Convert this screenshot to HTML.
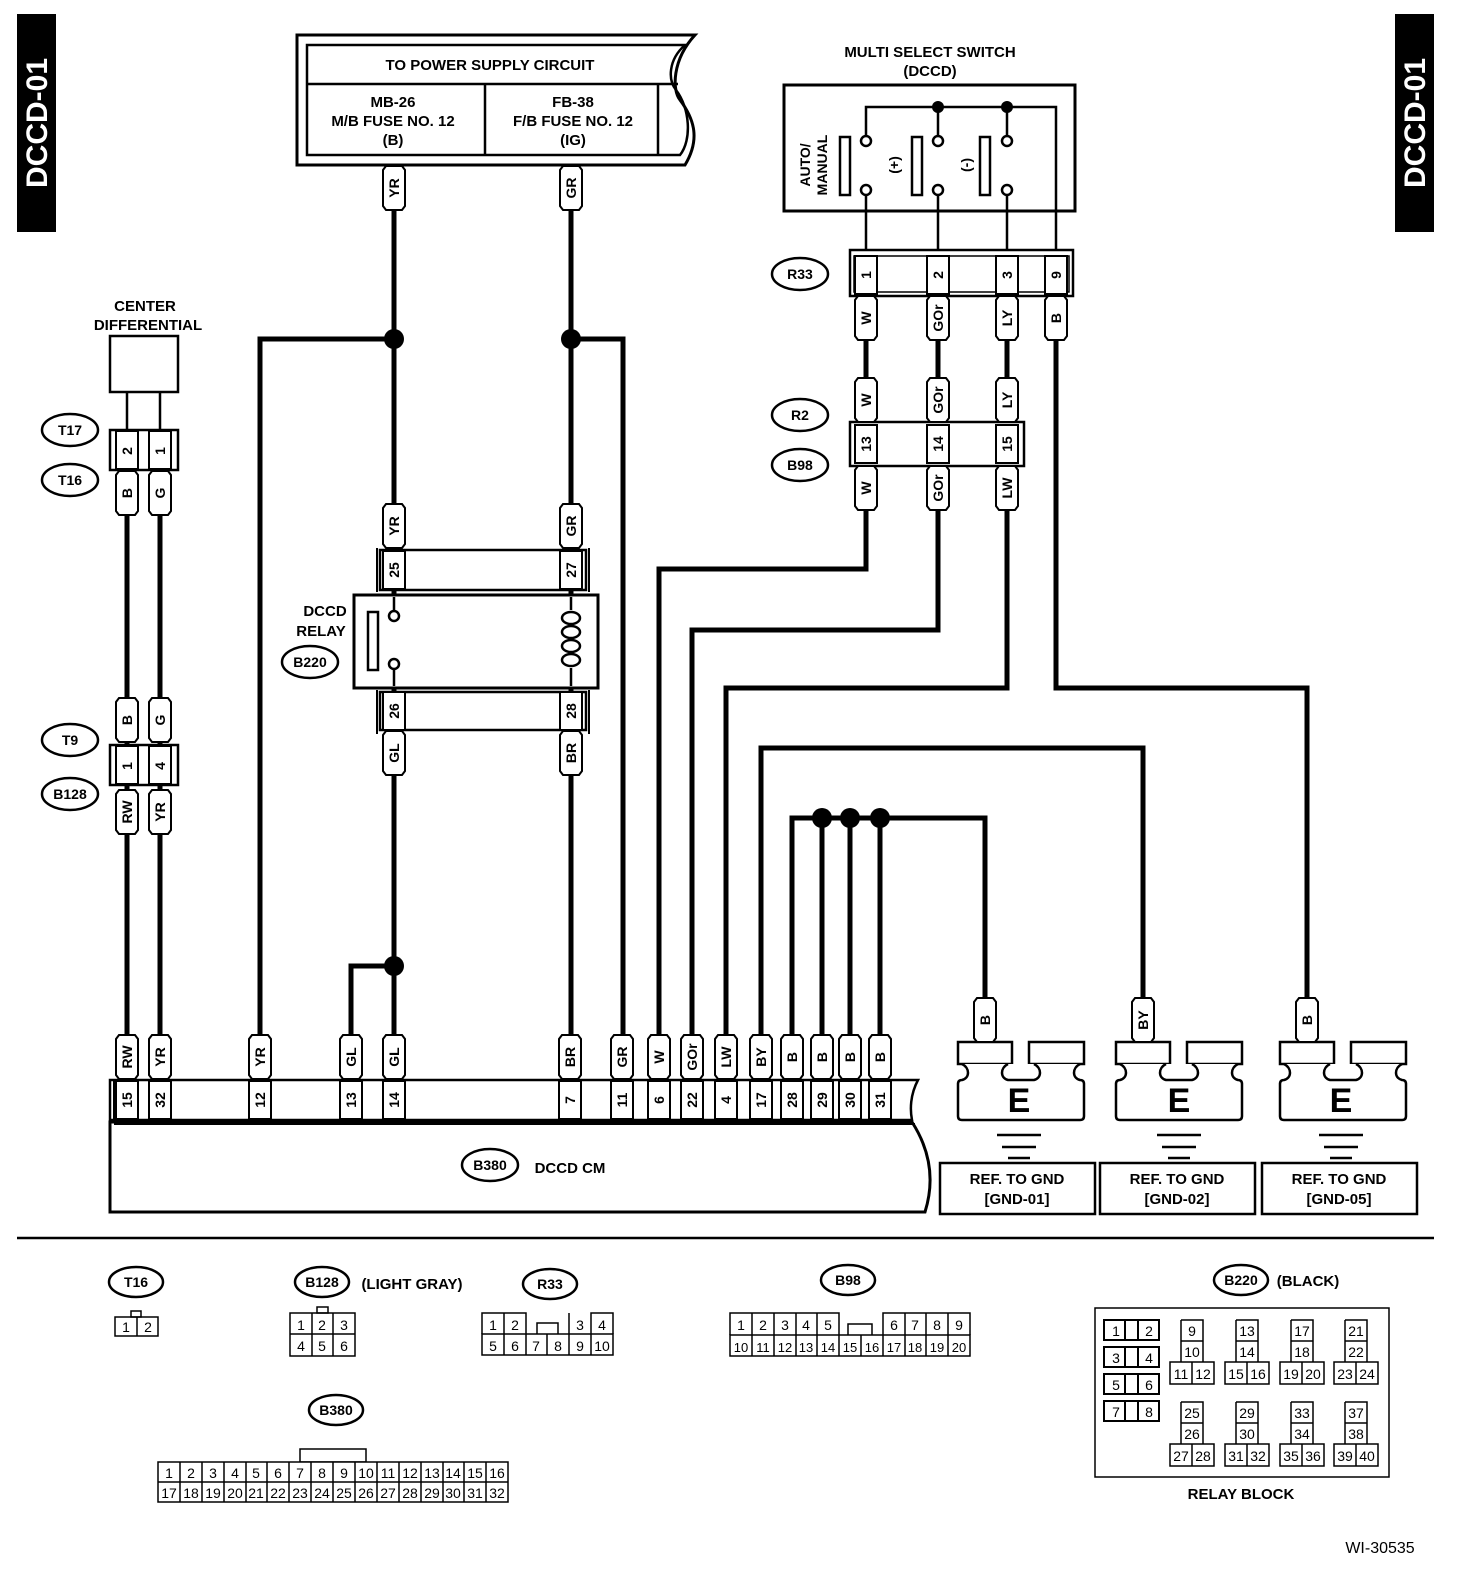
<!DOCTYPE html>
<html><head><meta charset="utf-8"><style>
html,body{margin:0;padding:0;background:#fff}
svg{display:block}
text{font-family:"Liberation Sans",sans-serif;font-weight:bold;fill:#000}
.tt{font-size:14px;text-anchor:middle;dominant-baseline:central}
.l{font-size:15px;text-anchor:middle}
.s{font-size:14px;text-anchor:middle;font-weight:normal}
</style></head><body>
<svg width="1472" height="1580" viewBox="0 0 1472 1580" xmlns="http://www.w3.org/2000/svg">
<defs>
<g id="t"><path d="M-8,-22H8L11,-18V18L8,22H-8L-11,18V-18Z" fill="#fff" stroke="#000" stroke-width="2"/></g>
<g id="c"><rect x="-11" y="0" width="22" height="38" fill="#fff" stroke="#000" stroke-width="2"/></g>
<g id="gnd" fill="#fff" stroke="#000" stroke-width="2.5">
<rect x="0" y="1042" width="54" height="22"/>
<rect x="71" y="1042" width="55" height="22"/>
<path d="M4,1064C12,1068 12,1078 4,1080Q0,1080 0,1084V1116Q0,1120 4,1120H122Q126,1120 126,1116V1084Q126,1080 122,1080C114,1078 114,1068 122,1064M50,1064C42,1068 42,1078 50,1080H76C84,1078 84,1068 76,1064"/>
</g>
</defs>

<!-- side labels -->
<rect x="17" y="14" width="39" height="218" fill="#000"/>
<text transform="translate(47,123) rotate(-90)" style="font-size:30px;fill:#fff;text-anchor:middle">DCCD-01</text>
<rect x="1395" y="14" width="39" height="218" fill="#000"/>
<text transform="translate(1425,123) rotate(-90)" style="font-size:30px;fill:#fff;text-anchor:middle">DCCD-01</text>

<!-- power supply box -->
<path d="M297,35H695C672,60 672,90 680,100C695,120 700,140 685,165H297Z" fill="#fff" stroke="#000" stroke-width="3"/>
<path d="M307,45H685C668,60 668,80 676,90C690,108 692,140 680,155H307Z" fill="none" stroke="#000" stroke-width="2.5"/>
<path d="M307,84H678M485,84V155M658,84V155" stroke="#000" stroke-width="2.5"/>
<text x="490" y="70" class="l">TO POWER SUPPLY CIRCUIT</text>
<text x="393" y="107" class="l">MB-26</text>
<text x="393" y="126" class="l">M/B FUSE NO. 12</text>
<text x="393" y="145" class="l">(B)</text>
<text x="573" y="107" class="l">FB-38</text>
<text x="573" y="126" class="l">F/B FUSE NO. 12</text>
<text x="573" y="145" class="l">(IG)</text>

<!-- Multi select switch -->
<text x="930" y="57" class="l">MULTI SELECT SWITCH</text>
<text x="930" y="76" class="l">(DCCD)</text>
<rect x="784" y="85" width="291" height="126" fill="none" stroke="#000" stroke-width="3"/>
<g stroke="#000" stroke-width="2.5" fill="none">
<path d="M866,136V107H1056V252M938,107V136M1007,107V136"/>
<path d="M866,195V252M938,195V252M1007,195V252"/>
<rect x="840" y="137" width="10" height="58"/><rect x="912" y="137" width="10" height="58"/><rect x="980" y="137" width="10" height="58"/>
<circle cx="866" cy="141" r="5" fill="#fff"/><circle cx="866" cy="190" r="5" fill="#fff"/>
<circle cx="938" cy="141" r="5" fill="#fff"/><circle cx="938" cy="190" r="5" fill="#fff"/>
<circle cx="1007" cy="141" r="5" fill="#fff"/><circle cx="1007" cy="190" r="5" fill="#fff"/>
</g>
<circle cx="938" cy="107" r="6"/><circle cx="1007" cy="107" r="6"/>
<text transform="translate(810,165) rotate(-90)" class="l" style="font-size:14px">AUTO/</text>
<text transform="translate(827,165) rotate(-90)" class="l" style="font-size:14px">MANUAL</text>
<text transform="translate(894,165) rotate(-90)" class="tt">(+)</text>
<text transform="translate(966,165) rotate(-90)" class="tt">(-)</text>

<!-- Center differential -->
<text x="145" y="311" class="l">CENTER</text>
<text x="148" y="330" class="l">DIFFERENTIAL</text>
<rect x="110" y="336" width="68" height="56" fill="#fff" stroke="#000" stroke-width="2.5"/>
<path d="M127,392V430M160,392V430" stroke="#000" stroke-width="2.5"/>

<!-- thick wires -->
<g stroke="#000" stroke-width="5" fill="none">
<path d="M394,166V1040M571,166V1040"/>
<path d="M260,1040V339H394M571,339H623V1040M351,1040V966H394"/>
<path d="M127,470V1040M160,470V1040"/>
<path d="M866,296V569H659V1040M938,296V630H692V1040M1007,296V688H726V1040"/>
<path d="M1056,296V688H1307V1000M761,1040V748H1143V1000M792,1040V818H985V1000M822,818V1040M850,818V1040M880,818V1040"/>
</g>
<g>
<circle cx="394" cy="339" r="10"/><circle cx="571" cy="339" r="10"/><circle cx="394" cy="966" r="10"/>
<circle cx="822" cy="818" r="10"/><circle cx="850" cy="818" r="10"/><circle cx="880" cy="818" r="10"/>
</g>

<!-- small connectors left -->
<rect x="110" y="430" width="68" height="40" fill="#fff" stroke="#000" stroke-width="2.5"/>
<use href="#c" x="127" y="431"/><use href="#c" x="160" y="431"/>
<text transform="translate(127,451) rotate(-90)" class="tt">2</text>
<text transform="translate(160,451) rotate(-90)" class="tt">1</text>
<rect x="110" y="745" width="68" height="40" fill="#fff" stroke="#000" stroke-width="2.5"/>
<use href="#c" x="127" y="746"/><use href="#c" x="160" y="746"/>
<text transform="translate(127,766) rotate(-90)" class="tt">1</text>
<text transform="translate(160,766) rotate(-90)" class="tt">4</text>

<!-- B380 body -->
<path d="M110,1122H912C930,1150 935,1180 925,1212H110Z" fill="#fff" stroke="#000" stroke-width="3"/>
<path d="M110,1080H918C910,1095 910,1110 912,1120H110Z" fill="#fff" stroke="#000" stroke-width="2.5"/>
<path d="M114,1080V1120M114,1124H915" stroke="#000" stroke-width="2"/>

<!-- ellipse labels -->
<g fill="#fff" stroke="#000" stroke-width="2.5">
<ellipse cx="70" cy="430" rx="28" ry="16"/><ellipse cx="70" cy="480" rx="28" ry="16"/>
<ellipse cx="70" cy="740" rx="28" ry="16"/><ellipse cx="70" cy="794" rx="28" ry="16"/>
<ellipse cx="310" cy="662" rx="28" ry="16"/>
<ellipse cx="800" cy="274" rx="28" ry="16"/><ellipse cx="800" cy="415" rx="28" ry="16"/><ellipse cx="800" cy="465" rx="28" ry="16"/>
<ellipse cx="490" cy="1165" rx="28" ry="16"/>
</g>
<text x="70" y="430" class="tt">T17</text><text x="70" y="480" class="tt">T16</text>
<text x="70" y="740" class="tt">T9</text><text x="70" y="794" class="tt">B128</text>
<text x="310" y="662" class="tt">B220</text>
<text x="800" y="274" class="tt">R33</text><text x="800" y="415" class="tt">R2</text><text x="800" y="465" class="tt">B98</text>
<text x="490" y="1165" class="tt">B380</text>
<text x="570" y="1173" class="l">DCCD CM</text>

<!-- relay -->
<text x="325" y="616" class="l">DCCD</text>
<text x="321" y="636" class="l">RELAY</text>
<rect x="380" y="550" width="206" height="40" fill="#fff" stroke="#000" stroke-width="2.5"/>
<path d="M377,548V592M589,548V592" stroke="#000" stroke-width="2"/>
<use href="#c" x="394" y="551"/><use href="#c" x="571" y="551"/>
<text transform="translate(394,570) rotate(-90)" class="tt">25</text>
<text transform="translate(571,570) rotate(-90)" class="tt">27</text>
<rect x="354" y="595" width="244" height="93" fill="#fff" stroke="#000" stroke-width="3"/>
<rect x="368" y="612" width="10" height="58" fill="none" stroke="#000" stroke-width="2.5"/>
<g stroke="#000" stroke-width="2.5" fill="none">
<path d="M394,597V611M394,669V686M571,597V610M571,668V686"/>
<circle cx="394" cy="616" r="5" fill="#fff"/><circle cx="394" cy="664" r="5" fill="#fff"/>
<ellipse cx="571" cy="618" rx="9" ry="6"/><ellipse cx="571" cy="632" rx="9" ry="6"/><ellipse cx="571" cy="646" rx="9" ry="6"/><ellipse cx="571" cy="660" rx="9" ry="6"/>
</g>
<rect x="380" y="692" width="206" height="38" fill="#fff" stroke="#000" stroke-width="2.5"/>
<path d="M377,690V734M589,690V734" stroke="#000" stroke-width="2"/>
<use href="#c" x="394" y="692"/><use href="#c" x="571" y="692"/>
<text transform="translate(394,711) rotate(-90)" class="tt">26</text>
<text transform="translate(571,711) rotate(-90)" class="tt">28</text>

<!-- R33 connector -->
<rect x="850" y="250" width="223" height="46" fill="#fff" stroke="#000" stroke-width="2.5"/>
<rect x="854" y="256" width="215" height="36" fill="none" stroke="#000" stroke-width="1.5"/>
<use href="#c" x="866" y="256"/><use href="#c" x="938" y="256"/><use href="#c" x="1007" y="256"/><use href="#c" x="1056" y="256"/>
<text transform="translate(866,275) rotate(-90)" class="tt">1</text>
<text transform="translate(938,275) rotate(-90)" class="tt">2</text>
<text transform="translate(1007,275) rotate(-90)" class="tt">3</text>
<text transform="translate(1056,275) rotate(-90)" class="tt">9</text>

<!-- R2/B98 connector -->
<rect x="850" y="422" width="174" height="44" fill="#fff" stroke="#000" stroke-width="2.5"/>
<use href="#c" x="866" y="425"/><use href="#c" x="938" y="425"/><use href="#c" x="1007" y="425"/>
<text transform="translate(866,444) rotate(-90)" class="tt">13</text>
<text transform="translate(938,444) rotate(-90)" class="tt">14</text>
<text transform="translate(1007,444) rotate(-90)" class="tt">15</text>

<!-- B380 pin cells -->
<g>
<use href="#c" x="127" y="1081"/><use href="#c" x="160" y="1081"/><use href="#c" x="260" y="1081"/><use href="#c" x="351" y="1081"/><use href="#c" x="394" y="1081"/><use href="#c" x="570" y="1081"/><use href="#c" x="622" y="1081"/><use href="#c" x="659" y="1081"/><use href="#c" x="692" y="1081"/><use href="#c" x="726" y="1081"/><use href="#c" x="761" y="1081"/><use href="#c" x="792" y="1081"/><use href="#c" x="822" y="1081"/><use href="#c" x="850" y="1081"/><use href="#c" x="880" y="1081"/>
</g>
<text transform="translate(127,1100) rotate(-90)" class="tt">15</text>
<text transform="translate(160,1100) rotate(-90)" class="tt">32</text>
<text transform="translate(260,1100) rotate(-90)" class="tt">12</text>
<text transform="translate(351,1100) rotate(-90)" class="tt">13</text>
<text transform="translate(394,1100) rotate(-90)" class="tt">14</text>
<text transform="translate(570,1100) rotate(-90)" class="tt">7</text>
<text transform="translate(622,1100) rotate(-90)" class="tt">11</text>
<text transform="translate(659,1100) rotate(-90)" class="tt">6</text>
<text transform="translate(692,1100) rotate(-90)" class="tt">22</text>
<text transform="translate(726,1100) rotate(-90)" class="tt">4</text>
<text transform="translate(761,1100) rotate(-90)" class="tt">17</text>
<text transform="translate(792,1100) rotate(-90)" class="tt">28</text>
<text transform="translate(822,1100) rotate(-90)" class="tt">29</text>
<text transform="translate(850,1100) rotate(-90)" class="tt">30</text>
<text transform="translate(880,1100) rotate(-90)" class="tt">31</text>

<!-- grounds -->
<use href="#gnd" x="958" y="0"/><use href="#gnd" x="1116" y="0"/><use href="#gnd" x="1280" y="0"/>
<g style="font-size:34px;text-anchor:middle">
<text x="1019" y="1112">E</text><text x="1179" y="1112">E</text><text x="1341" y="1112">E</text>
</g>
<g stroke="#000" stroke-width="2.5">
<path d="M997,1135H1041M1002,1147H1036M1008,1158H1030"/>
<path d="M1157,1135H1201M1162,1147H1196M1168,1158H1190"/>
<path d="M1319,1135H1363M1324,1147H1358M1330,1158H1352"/>
</g>
<g fill="none" stroke="#000" stroke-width="2.5">
<rect x="940" y="1163" width="155" height="51"/><rect x="1100" y="1163" width="155" height="51"/><rect x="1262" y="1163" width="155" height="51"/>
</g>
<text x="1017" y="1184" class="l">REF. TO GND</text><text x="1017" y="1204" class="l">[GND-01]</text>
<text x="1177" y="1184" class="l">REF. TO GND</text><text x="1177" y="1204" class="l">[GND-02]</text>
<text x="1339" y="1184" class="l">REF. TO GND</text><text x="1339" y="1204" class="l">[GND-05]</text>

<!-- tags -->
<g>
<use href="#t" x="394" y="188"/><use href="#t" x="571" y="188"/>
<use href="#t" x="394" y="526"/><use href="#t" x="571" y="526"/>
<use href="#t" x="394" y="753"/><use href="#t" x="571" y="753"/>
<use href="#t" x="127" y="493"/><use href="#t" x="160" y="493"/>
<use href="#t" x="127" y="720"/><use href="#t" x="160" y="720"/>
<use href="#t" x="127" y="812"/><use href="#t" x="160" y="812"/>
<use href="#t" x="866" y="318"/><use href="#t" x="938" y="318"/><use href="#t" x="1007" y="318"/><use href="#t" x="1056" y="318"/>
<use href="#t" x="866" y="400"/><use href="#t" x="938" y="400"/><use href="#t" x="1007" y="400"/>
<use href="#t" x="866" y="488"/><use href="#t" x="938" y="488"/><use href="#t" x="1007" y="488"/>
<use href="#t" x="985" y="1020"/><use href="#t" x="1143" y="1020"/><use href="#t" x="1307" y="1020"/>
<use href="#t" x="127" y="1057"/><use href="#t" x="160" y="1057"/><use href="#t" x="260" y="1057"/><use href="#t" x="351" y="1057"/><use href="#t" x="394" y="1057"/><use href="#t" x="570" y="1057"/><use href="#t" x="622" y="1057"/><use href="#t" x="659" y="1057"/><use href="#t" x="692" y="1057"/><use href="#t" x="726" y="1057"/><use href="#t" x="761" y="1057"/><use href="#t" x="792" y="1057"/><use href="#t" x="822" y="1057"/><use href="#t" x="850" y="1057"/><use href="#t" x="880" y="1057"/>
</g>
<text transform="translate(394,188) rotate(-90)" class="tt">YR</text>
<text transform="translate(571,188) rotate(-90)" class="tt">GR</text>
<text transform="translate(394,526) rotate(-90)" class="tt">YR</text>
<text transform="translate(571,526) rotate(-90)" class="tt">GR</text>
<text transform="translate(394,753) rotate(-90)" class="tt">GL</text>
<text transform="translate(571,753) rotate(-90)" class="tt">BR</text>
<text transform="translate(127,493) rotate(-90)" class="tt">B</text>
<text transform="translate(160,493) rotate(-90)" class="tt">G</text>
<text transform="translate(127,720) rotate(-90)" class="tt">B</text>
<text transform="translate(160,720) rotate(-90)" class="tt">G</text>
<text transform="translate(127,812) rotate(-90)" class="tt">RW</text>
<text transform="translate(160,812) rotate(-90)" class="tt">YR</text>
<text transform="translate(866,318) rotate(-90)" class="tt">W</text>
<text transform="translate(938,318) rotate(-90)" class="tt">GOr</text>
<text transform="translate(1007,318) rotate(-90)" class="tt">LY</text>
<text transform="translate(1056,318) rotate(-90)" class="tt">B</text>
<text transform="translate(866,400) rotate(-90)" class="tt">W</text>
<text transform="translate(938,400) rotate(-90)" class="tt">GOr</text>
<text transform="translate(1007,400) rotate(-90)" class="tt">LY</text>
<text transform="translate(866,488) rotate(-90)" class="tt">W</text>
<text transform="translate(938,488) rotate(-90)" class="tt">GOr</text>
<text transform="translate(1007,488) rotate(-90)" class="tt">LW</text>
<text transform="translate(985,1020) rotate(-90)" class="tt">B</text>
<text transform="translate(1143,1020) rotate(-90)" class="tt">BY</text>
<text transform="translate(1307,1020) rotate(-90)" class="tt">B</text>
<text transform="translate(127,1057) rotate(-90)" class="tt">RW</text>
<text transform="translate(160,1057) rotate(-90)" class="tt">YR</text>
<text transform="translate(260,1057) rotate(-90)" class="tt">YR</text>
<text transform="translate(351,1057) rotate(-90)" class="tt">GL</text>
<text transform="translate(394,1057) rotate(-90)" class="tt">GL</text>
<text transform="translate(570,1057) rotate(-90)" class="tt">BR</text>
<text transform="translate(622,1057) rotate(-90)" class="tt">GR</text>
<text transform="translate(659,1057) rotate(-90)" class="tt">W</text>
<text transform="translate(692,1057) rotate(-90)" class="tt">GOr</text>
<text transform="translate(726,1057) rotate(-90)" class="tt">LW</text>
<text transform="translate(761,1057) rotate(-90)" class="tt">BY</text>
<text transform="translate(792,1057) rotate(-90)" class="tt">B</text>
<text transform="translate(822,1057) rotate(-90)" class="tt">B</text>
<text transform="translate(850,1057) rotate(-90)" class="tt">B</text>
<text transform="translate(880,1057) rotate(-90)" class="tt">B</text>

<!-- separator -->
<path d="M17,1238H1434" stroke="#000" stroke-width="2.5"/>

<!-- bottom connector views -->
<g fill="#fff" stroke="#000" stroke-width="2.5">
<ellipse cx="136" cy="1282" rx="27" ry="15"/><ellipse cx="322" cy="1282" rx="27" ry="15"/>
<ellipse cx="550" cy="1284" rx="27" ry="15"/><ellipse cx="848" cy="1280" rx="27" ry="15"/>
<ellipse cx="336" cy="1410" rx="27" ry="15"/><ellipse cx="1241" cy="1280" rx="27" ry="15"/>
</g>
<text x="136" y="1282" class="tt">T16</text><text x="322" y="1282" class="tt">B128</text>
<text x="550" y="1284" class="tt">R33</text><text x="848" y="1280" class="tt">B98</text>
<text x="336" y="1410" class="tt">B380</text><text x="1241" y="1280" class="tt">B220</text>
<text x="412" y="1289" class="l">(LIGHT GRAY)</text>
<text x="1308" y="1286" class="l">(BLACK)</text>

<g fill="none" stroke="#000" stroke-width="1.5">
<rect x="131" y="1311" width="10" height="6"/>
<rect x="115" y="1317" width="43" height="19"/><path d="M137,1317V1336"/>
<rect x="317" y="1307" width="11" height="6"/>
<rect x="290" y="1313" width="65" height="43"/><path d="M290,1334H355M312,1313V1356M333,1313V1356"/>
<path d="M482,1334V1313H526V1334M591,1334V1313H613V1334M569,1313V1334"/>
<rect x="482" y="1334" width="131" height="21"/>
<path d="M504,1313V1355M526,1334V1355M547,1334V1355M569,1334V1355M591,1334V1355"/>
<path d="M537,1334V1323H558V1334"/>
<path d="M730,1335V1313H839V1335M883,1335V1313H970V1335"/>
<rect x="730" y="1335" width="240" height="21"/>
<path d="M752,1313V1356M774,1313V1356M796,1313V1356M817,1313V1356M839,1335V1356M861,1335V1356M883,1335V1356M905,1313V1356M926,1313V1356M948,1313V1356"/>
<path d="M848,1335V1324H872V1335"/>
<rect x="300" y="1449" width="66" height="13"/>
<rect x="158" y="1462" width="350" height="40" fill="#fff"/><path d="M158,1482H508"/>
<path d="M180,1462V1502M202,1462V1502M224,1462V1502M246,1462V1502M267,1462V1502M289,1462V1502M311,1462V1502M333,1462V1502M355,1462V1502M377,1462V1502M399,1462V1502M421,1462V1502M443,1462V1502M464,1462V1502M486,1462V1502"/>
</g>
<g>
<text x="126" y="1332" class="s">1</text><text x="148" y="1332" class="s">2</text>
<text x="301" y="1330" class="s">1</text><text x="322" y="1330" class="s">2</text><text x="344" y="1330" class="s">3</text>
<text x="301" y="1351" class="s">4</text><text x="322" y="1351" class="s">5</text><text x="344" y="1351" class="s">6</text>
<text x="493" y="1330" class="s">1</text><text x="515" y="1330" class="s">2</text><text x="580" y="1330" class="s">3</text><text x="602" y="1330" class="s">4</text>
<text x="493" y="1351" class="s">5</text><text x="515" y="1351" class="s">6</text><text x="536" y="1351" class="s">7</text><text x="558" y="1351" class="s">8</text><text x="580" y="1351" class="s">9</text><text x="602" y="1351" class="s">10</text>
<text x="741" y="1330" class="s">1</text><text x="763" y="1330" class="s">2</text><text x="785" y="1330" class="s">3</text><text x="806" y="1330" class="s">4</text><text x="828" y="1330" class="s">5</text>
<text x="894" y="1330" class="s">6</text><text x="915" y="1330" class="s">7</text><text x="937" y="1330" class="s">8</text><text x="959" y="1330" class="s">9</text>
<text x="741" y="1352" class="s" style="font-size:13px">10</text><text x="763" y="1352" class="s" style="font-size:13px">11</text><text x="785" y="1352" class="s" style="font-size:13px">12</text><text x="806" y="1352" class="s" style="font-size:13px">13</text><text x="828" y="1352" class="s" style="font-size:13px">14</text><text x="850" y="1352" class="s" style="font-size:13px">15</text><text x="872" y="1352" class="s" style="font-size:13px">16</text><text x="894" y="1352" class="s" style="font-size:13px">17</text><text x="915" y="1352" class="s" style="font-size:13px">18</text><text x="937" y="1352" class="s" style="font-size:13px">19</text><text x="959" y="1352" class="s" style="font-size:13px">20</text>
</g>
<g>
<text x="169" y="1478" class="s">1</text><text x="191" y="1478" class="s">2</text><text x="213" y="1478" class="s">3</text><text x="235" y="1478" class="s">4</text><text x="256" y="1478" class="s">5</text><text x="278" y="1478" class="s">6</text><text x="300" y="1478" class="s">7</text><text x="322" y="1478" class="s">8</text><text x="344" y="1478" class="s">9</text><text x="366" y="1478" class="s">10</text><text x="388" y="1478" class="s">11</text><text x="410" y="1478" class="s">12</text><text x="432" y="1478" class="s">13</text><text x="453" y="1478" class="s">14</text><text x="475" y="1478" class="s">15</text><text x="497" y="1478" class="s">16</text>
<text x="169" y="1498" class="s">17</text><text x="191" y="1498" class="s">18</text><text x="213" y="1498" class="s">19</text><text x="235" y="1498" class="s">20</text><text x="256" y="1498" class="s">21</text><text x="278" y="1498" class="s">22</text><text x="300" y="1498" class="s">23</text><text x="322" y="1498" class="s">24</text><text x="344" y="1498" class="s">25</text><text x="366" y="1498" class="s">26</text><text x="388" y="1498" class="s">27</text><text x="410" y="1498" class="s">28</text><text x="432" y="1498" class="s">29</text><text x="453" y="1498" class="s">30</text><text x="475" y="1498" class="s">31</text><text x="497" y="1498" class="s">32</text>
</g>

<!-- relay block -->
<rect x="1095" y="1308" width="294" height="169" fill="none" stroke="#000" stroke-width="1.5"/>
<g fill="none" stroke="#000" stroke-width="2">
<rect x="1104" y="1320" width="55" height="20"/><path d="M1125,1320V1340M1138,1320V1340"/>
<rect x="1104" y="1347" width="55" height="20"/><path d="M1125,1347V1367M1138,1347V1367"/>
<rect x="1104" y="1374" width="55" height="20"/><path d="M1125,1374V1394M1138,1374V1394"/>
<rect x="1104" y="1401" width="55" height="20"/><path d="M1125,1401V1421M1138,1401V1421"/>
</g>
<text x="1116" y="1336" class="s">1</text><text x="1149" y="1336" class="s">2</text>
<text x="1116" y="1363" class="s">3</text><text x="1149" y="1363" class="s">4</text>
<text x="1116" y="1390" class="s">5</text><text x="1149" y="1390" class="s">6</text>
<text x="1116" y="1417" class="s">7</text><text x="1149" y="1417" class="s">8</text>
<g fill="none" stroke="#000" stroke-width="1.5">
<path d="M1181,1320H1203V1362M1181,1320V1362M1181,1341H1203M1170,1362H1214V1384H1170ZM1192,1362V1384"/>
<path d="M1236,1320H1258V1362M1236,1320V1362M1236,1341H1258M1225,1362H1269V1384H1225ZM1247,1362V1384"/>
<path d="M1291,1320H1313V1362M1291,1320V1362M1291,1341H1313M1280,1362H1324V1384H1280ZM1302,1362V1384"/>
<path d="M1345,1320H1367V1362M1345,1320V1362M1345,1341H1367M1334,1362H1378V1384H1334ZM1356,1362V1384"/>
<path d="M1181,1402H1203V1444M1181,1402V1444M1181,1423H1203M1170,1444H1214V1466H1170ZM1192,1444V1466"/>
<path d="M1236,1402H1258V1444M1236,1402V1444M1236,1423H1258M1225,1444H1269V1466H1225ZM1247,1444V1466"/>
<path d="M1291,1402H1313V1444M1291,1402V1444M1291,1423H1313M1280,1444H1324V1466H1280ZM1302,1444V1466"/>
<path d="M1345,1402H1367V1444M1345,1402V1444M1345,1423H1367M1334,1444H1378V1466H1334ZM1356,1444V1466"/>
</g>
<g style="font-size:13px">
<text x="1192" y="1336" class="s">9</text><text x="1192" y="1357" class="s">10</text><text x="1181" y="1379" class="s">11</text><text x="1203" y="1379" class="s">12</text>
<text x="1247" y="1336" class="s">13</text><text x="1247" y="1357" class="s">14</text><text x="1236" y="1379" class="s">15</text><text x="1258" y="1379" class="s">16</text>
<text x="1302" y="1336" class="s">17</text><text x="1302" y="1357" class="s">18</text><text x="1291" y="1379" class="s">19</text><text x="1313" y="1379" class="s">20</text>
<text x="1356" y="1336" class="s">21</text><text x="1356" y="1357" class="s">22</text><text x="1345" y="1379" class="s">23</text><text x="1367" y="1379" class="s">24</text>
<text x="1192" y="1418" class="s">25</text><text x="1192" y="1439" class="s">26</text><text x="1181" y="1461" class="s">27</text><text x="1203" y="1461" class="s">28</text>
<text x="1247" y="1418" class="s">29</text><text x="1247" y="1439" class="s">30</text><text x="1236" y="1461" class="s">31</text><text x="1258" y="1461" class="s">32</text>
<text x="1302" y="1418" class="s">33</text><text x="1302" y="1439" class="s">34</text><text x="1291" y="1461" class="s">35</text><text x="1313" y="1461" class="s">36</text>
<text x="1356" y="1418" class="s">37</text><text x="1356" y="1439" class="s">38</text><text x="1345" y="1461" class="s">39</text><text x="1367" y="1461" class="s">40</text>
</g>
<text x="1241" y="1499" class="l">RELAY BLOCK</text>
<text x="1380" y="1553" style="font-size:16px;font-weight:normal;text-anchor:middle">WI-30535</text>
</svg>
</body></html>
